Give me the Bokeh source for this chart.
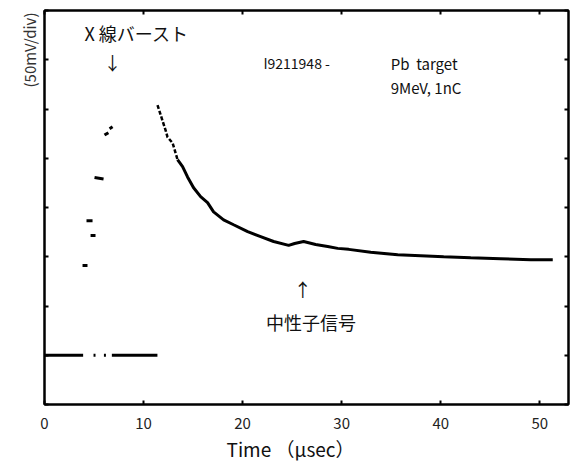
import math
from bokeh.plotting import figure
from bokeh.models import LinearAxis, FixedTicker, Label, Range1d, Title
from bokeh.embed import file_html
from bokeh.resources import INLINE

# ---- data (time in microseconds, signal in divisions of 50 mV) ----
x_ticks = [0, 10, 20, 30, 40, 50]
y_ticks = [-1, 0, 1, 2, 3, 4, 5, 6, 7]

baseline_x = [[0.0, 3.9], [4.95, 5.15], [6.0, 6.2], [6.8, 11.4]]
baseline_y = [[0.0, 0.0], [0.0, 0.0], [0.0, 0.0], [0.0, 0.0]]

burst_x = [[3.84, 4.34], [4.24, 4.85], [4.65, 5.15], [5.05, 5.96], [6.06, 6.45], [6.57, 6.87]]
burst_y = [[1.82, 1.82], [2.73, 2.73], [2.43, 2.43], [3.61, 3.58], [4.47, 4.52], [4.60, 4.64]]

decay_head_x = [11.41, 12.22, 12.42, 12.93, 13.23, 13.43]
decay_head_y = [5.08, 4.57, 4.43, 4.31, 4.11, 3.97]

decay_x = [13.43, 13.94, 14.44, 15.05, 15.76, 16.46, 17.07, 18.08, 19.09, 20.51,
           21.82, 23.13, 24.65, 25.25, 26.16, 27.37, 28.59, 29.6, 30.71, 32.93,
           35.66, 37.98, 40.30, 43.03, 46.06, 49.09, 51.31]
decay_y = [3.97, 3.83, 3.62, 3.40, 3.22, 3.10, 2.91, 2.75, 2.65, 2.51,
           2.41, 2.31, 2.23, 2.27, 2.31, 2.25, 2.21, 2.17, 2.15, 2.09,
           2.04, 2.02, 2.00, 1.98, 1.96, 1.94, 1.94]

FONT = "Noto Sans CJK JP"

p = figure(frame_width=524, frame_height=394, output_backend="svg", toolbar_location=None,
           x_range=Range1d(0, 52.9), y_range=Range1d(-1, 7),
           min_border_left=44, min_border_right=2, min_border_top=10, min_border_bottom=0)
p.xgrid.visible = False
p.ygrid.visible = False
p.outline_line_color = "black"
p.outline_line_width = 2
p.background_fill_color = "white"
p.border_fill_color = "white"

def style_axis(ax, ticks, show_labels):
    ax.ticker = FixedTicker(ticks=ticks)
    ax.axis_line_width = 2
    ax.axis_line_color = "black"
    ax.major_tick_in = 4
    ax.major_tick_out = 0
    ax.major_tick_line_width = 2
    ax.minor_tick_line_color = None
    if show_labels:
        ax.major_label_text_font = FONT
        ax.major_label_text_font_size = "15px"
        ax.major_label_text_color = "#222222"
        ax.major_label_standoff = 13
    else:
        ax.major_label_overrides = {t: "" for t in ticks}
        ax.major_label_standoff = 0

style_axis(p.xaxis[0], x_ticks, True)
style_axis(p.yaxis[0], y_ticks, False)

top = LinearAxis()
style_axis(top, x_ticks, False)
p.add_layout(top, "above")
right = LinearAxis()
style_axis(right, y_ticks, False)
p.add_layout(right, "right")

# axis titles
p.add_layout(Title(text="Time （μsec）", text_font=FONT, text_font_size="19px",
                   text_font_style="normal", text_color="#111111",
                   align="left", offset=182, standoff=2), "below")
p.add_layout(Title(text="(50mV/div)", text_font=FONT, text_font_size="15px",
                   text_font_style="normal", text_color="#333333",
                   align="right", offset=2, standoff=10), "left")

# ---- signal ----
p.multi_line(xs=baseline_x, ys=baseline_y, line_color="black", line_width=3)
p.multi_line(xs=burst_x, ys=burst_y, line_color="black", line_width=3)
p.line(decay_head_x, decay_head_y, line_color="black", line_width=2.5, line_dash="4 2")
p.line(decay_x, decay_y, line_color="black", line_width=3)

# ---- annotations ----
def lab(x, y, text, size, align="left"):
    p.add_layout(Label(x=x, y=y, text=text, text_font=FONT, text_font_size=size,
                       text_align=align, text_baseline="middle", text_color="#111111"))

lab(9.3, 6.54, "X 線バースト", "18px", align="center")
lab(6.87, 5.95, "↓", "18px", align="center")
lab(22.1, 5.93, "I9211948 -", "14px")
lab(34.95, 5.93, "Pb\u00a0\u00a0target", "15px")
lab(34.95, 5.43, "9MeV, 1nC", "15px")
lab(26.06, 1.34, "↑", "18px", align="center")
lab(26.9, 0.67, "中性子信号", "18px", align="center")

open("out.html", "w").write(file_html(p, INLINE))
